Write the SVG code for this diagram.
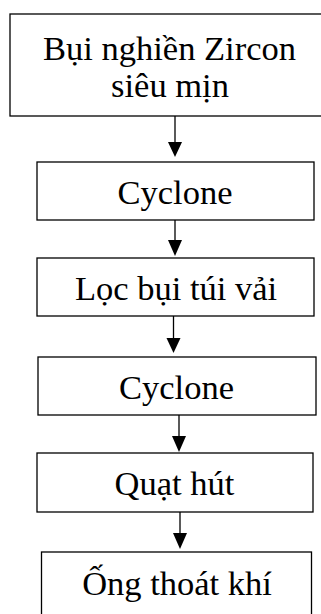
<svg xmlns="http://www.w3.org/2000/svg" width="321" height="614" viewBox="0 0 321 614">
  <defs>
    <style>
      .box { fill: #fff; stroke: #000; stroke-width: 1.3; }
      .lbl { font-family: "Liberation Serif", "Times New Roman", serif; font-size: 34.5px; fill: #000; text-anchor: middle; }
      .link { stroke: #000; stroke-width: 1.3; fill: none; }
      .head { fill: #000; }
    </style>
  </defs>
  <rect width="321" height="614" fill="#fff"/>

  <g id="source">
    <rect class="box" x="10" y="14" width="330" height="102"/>
    <text class="lbl" x="169.5" y="60">Bụi nghiền Zircon</text>
    <text class="lbl" x="170" y="97">siêu mịn</text>
  </g>

  <g id="cyclone1">
    <rect class="box" x="37" y="162" width="277" height="58"/>
    <text class="lbl" x="175" y="204">Cyclone</text>
  </g>

  <g id="bag-filter">
    <rect class="box" x="37" y="258" width="277" height="58"/>
    <text class="lbl" x="176" y="300">Lọc bụi túi vải</text>
  </g>

  <g id="cyclone2">
    <rect class="box" x="38" y="357" width="278" height="58"/>
    <text class="lbl" x="176.5" y="399">Cyclone</text>
  </g>

  <g id="fan">
    <rect class="box" x="37" y="453" width="276" height="59"/>
    <text class="lbl" x="174.5" y="495">Quạt hút</text>
  </g>

  <g id="stack">
    <rect class="box" x="41.5" y="552" width="270" height="80"/>
    <text class="lbl" x="177" y="595">Ống thoát khí</text>
  </g>

  <g id="connectors">
    <line class="link" x1="175" y1="116" x2="175" y2="143"/>
    <polygon class="head" points="168,142 182,142 175,157"/>

    <line class="link" x1="175" y1="220" x2="175" y2="241"/>
    <polygon class="head" points="168,240 182,240 175,256"/>

    <line class="link" x1="173.5" y1="316" x2="173.5" y2="339"/>
    <polygon class="head" points="166.5,338 180.5,338 173.5,353"/>

    <line class="link" x1="179" y1="415" x2="179" y2="437"/>
    <polygon class="head" points="172,436 186,436 179,452"/>

    <line class="link" x1="180" y1="512" x2="180" y2="534"/>
    <polygon class="head" points="173,533 187,533 180,549"/>
  </g>
</svg>
